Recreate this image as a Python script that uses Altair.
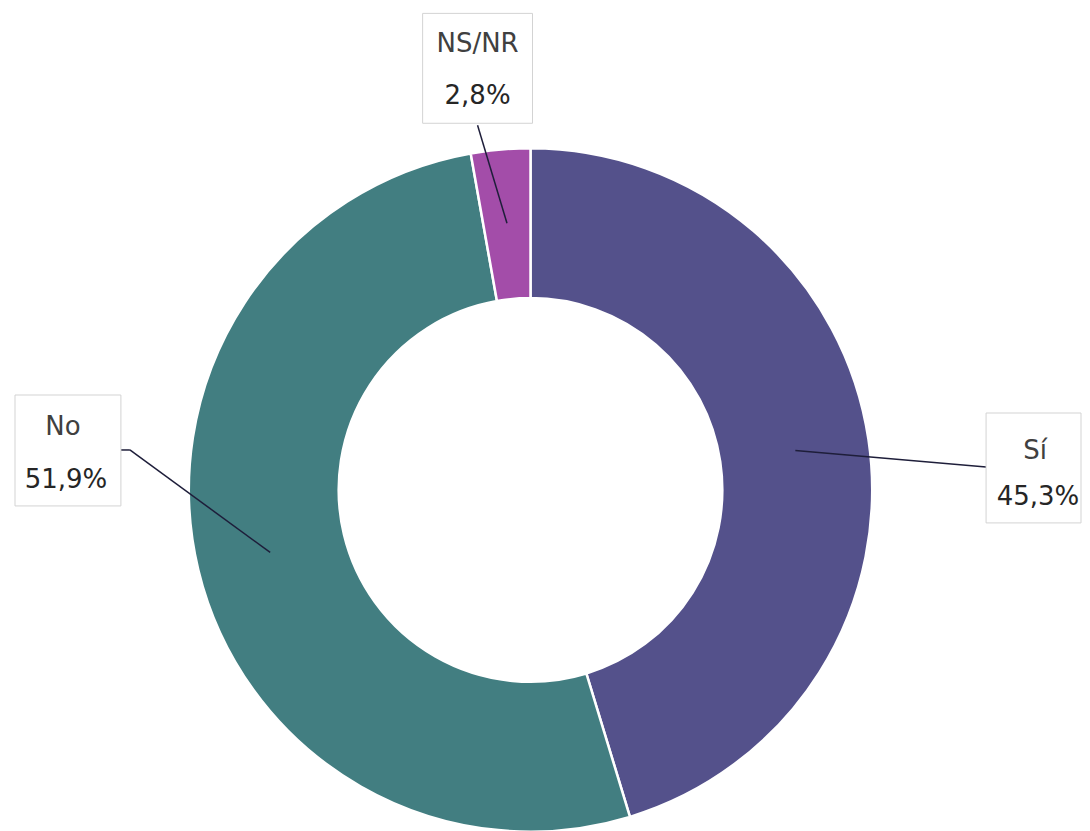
import altair as alt
import pandas as pd
import numpy as np

# ---- data ----
categories = ["Sí", "No", "NS/NR"]
values = [45.3, 51.9, 2.8]
pct_labels = ["45,3%", "51,9%", "2,8%"]
colors = ["#54518B", "#427E81", "#A34DA9"]

# ---- layout (chart pixels) ----
W, H = 1074, 815
CX, CY = 523, 482
R_IN, R_OUT = 192, 342
R_LEAD = 268
FONT = "DejaVu Sans"
FS = 26

box_left = [979, 7, 415]
box_top = [405, 387, 5]
box_right = [1074, 113, 525]
box_bottom = [515, 498, 115]
name_x = [1028, 55, 470]
name_y = [443, 419, 36]
pct_x = [1031, 58, 470]
pct_y = [489, 472, 88]
anchor_x = [979, 122, 470]
anchor_y = [459, 442, 117]

df = pd.DataFrame({"cat": categories, "value": values, "order": range(len(categories))})

# mid-angle of each slice (clockwise from 12 o'clock) -> leader start on the ring
total = sum(values)
cum = np.cumsum(values) - np.array(values) / 2
ang = cum / total * 2 * np.pi
lead = pd.DataFrame({
    "cat": categories,
    "x": anchor_x,
    "y": anchor_y,
    "x2": CX + R_LEAD * np.sin(ang),
    "y2": CY - R_LEAD * np.cos(ang),
})
# short horizontal elbow for "No"
elbow = pd.DataFrame({"cat": ["No"], "x": [113], "y": [442], "x2": [122], "y2": [442]})
lead = pd.concat([lead, elbow], ignore_index=True)

boxes = pd.DataFrame({"cat": categories, "l": box_left, "t": box_top,
                      "r": box_right, "b": box_bottom})
names = pd.DataFrame({"txt": categories, "x": name_x, "y": name_y})
pcts = pd.DataFrame({"txt": pct_labels, "x": pct_x, "y": pct_y})

arc = alt.Chart(df).mark_arc(
    innerRadius=R_IN, outerRadius=R_OUT, stroke="white", strokeWidth=2.5
).encode(
    theta=alt.Theta("value:Q", stack=True),
    order=alt.Order("order:Q"),
    color=alt.Color("cat:N", scale=alt.Scale(domain=categories, range=colors), legend=None),
    x=alt.value(CX),
    y=alt.value(CY),
)

rules = alt.Chart(lead).mark_rule(color="#1E1E3A", strokeWidth=1.5).encode(
    x=alt.X("x:Q", scale=None, axis=None),
    y=alt.Y("y:Q", scale=None, axis=None),
    x2="x2:Q",
    y2="y2:Q",
)

rects = alt.Chart(boxes).mark_rect(fill="white", stroke="#D3D3D3", strokeWidth=1).encode(
    x=alt.X("l:Q", scale=None, axis=None),
    x2="r:Q",
    y=alt.Y("t:Q", scale=None, axis=None),
    y2="b:Q",
)

name_txt = alt.Chart(names).mark_text(font=FONT, fontSize=FS, color="#404040",
                                      align="center", baseline="middle").encode(
    x=alt.X("x:Q", scale=None, axis=None),
    y=alt.Y("y:Q", scale=None, axis=None),
    text="txt:N",
)
pct_txt = alt.Chart(pcts).mark_text(font=FONT, fontSize=FS, color="#262626",
                                    align="center", baseline="middle").encode(
    x=alt.X("x:Q", scale=None, axis=None),
    y=alt.Y("y:Q", scale=None, axis=None),
    text="txt:N",
)

chart = alt.layer(arc, rules, rects, name_txt, pct_txt).properties(
    width=W, height=H, padding=0, background="white"
).configure_view(stroke=None)

chart.save("out.html", embed_options={"renderer": "svg", "actions": False})
